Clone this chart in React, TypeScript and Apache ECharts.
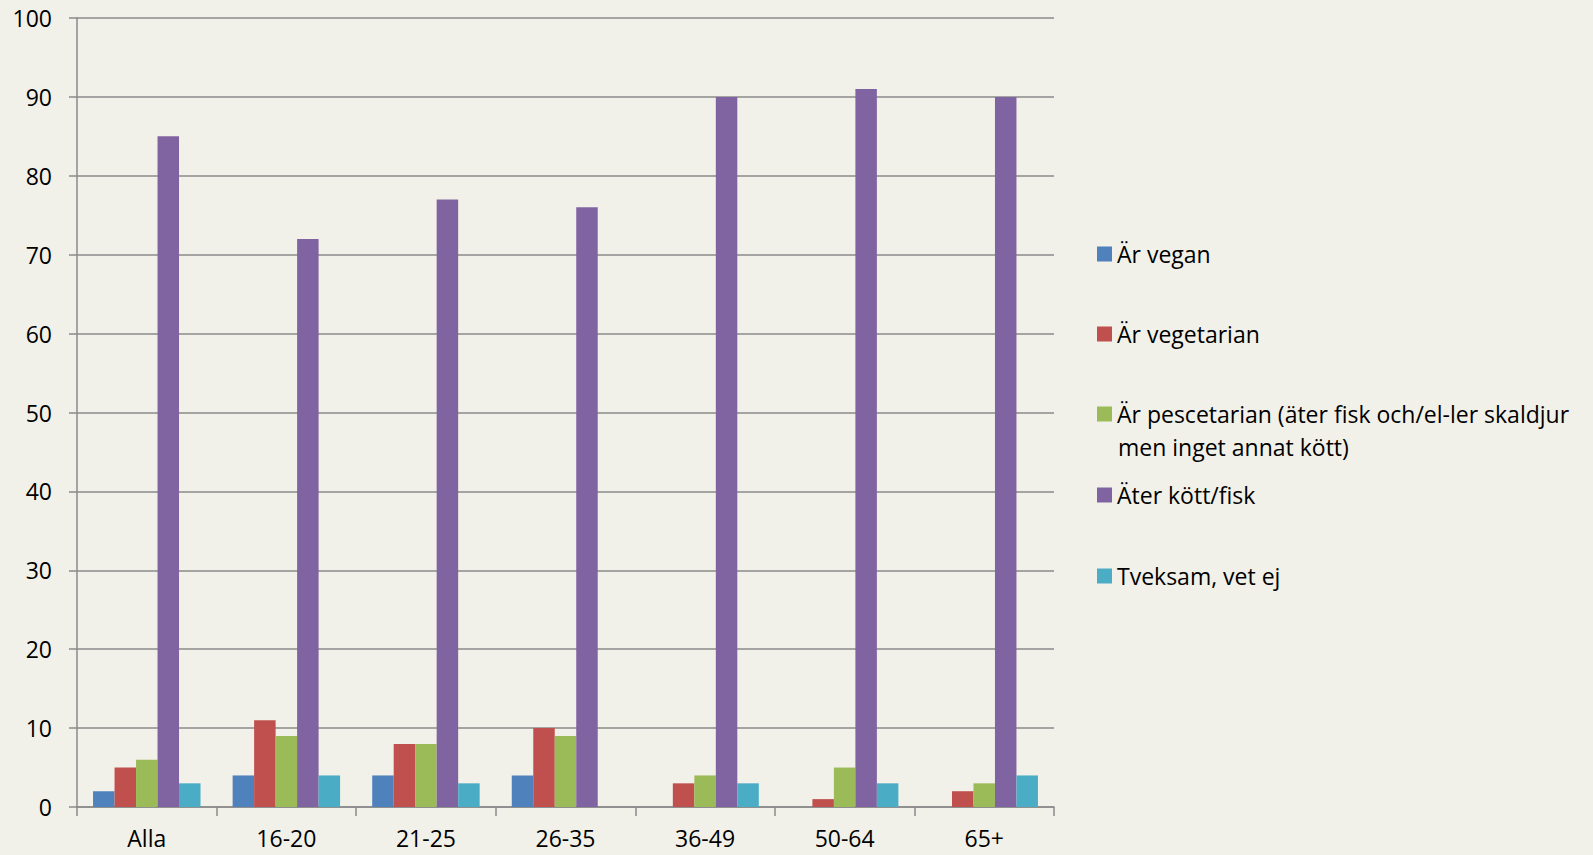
import React, { useEffect, useRef } from "react";
import * as echarts from "echarts";

const categories = ["Alla", "16-20", "21-25", "26-35", "36-49", "50-64", "65+"];
const seriesNames = [
  "Är vegan",
  "Är vegetarian",
  "Är pescetarian (äter fisk och/el-ler skaldjur",
  "Äter kött/fisk",
  "Tveksam, vet ej",
];
const pescetarianSecondLine = "men inget annat kött)";
const vegan = [2, 4, 4, 4, 0, 0, 0];
const vegetarian = [5, 11, 8, 10, 3, 1, 2];
const pescetarian = [6, 9, 8, 9, 4, 5, 3];
const kottFisk = [85, 72, 77, 76, 90, 91, 90];
const tveksam = [3, 4, 3, 0, 3, 3, 4];
const yTicks = { min: 0, max: 100, interval: 10 };

const colors = ["#4F81BD", "#C0504D", "#9BBB59", "#8064A2", "#4BACC6"];
const BG = "#F2F1E9";
const FONT = "Open Sans";
const FS = 23;

export default function App() {
  const ref = useRef<HTMLDivElement>(null);
  useEffect(() => {
    document.body.style.margin = "0";
    document.body.style.background = BG;
    if (!ref.current) return;
    const chart = echarts.init(ref.current, undefined, { renderer: "svg" });
    const data = [vegan, vegetarian, pescetarian, kottFisk, tveksam];
    const legendCenters = [254, 334, 414, 495, 576];
    const legends = seriesNames.map((name, i) => ({
      data: [name],
      left: 1097,
      top: legendCenters[i] - 14,
      padding: 0,
      itemWidth: 15,
      itemHeight: 15,
      itemGap: 6,
      icon: "rect",
      selectedMode: false,
      textStyle: {
        fontFamily: FONT,
        fontSize: FS,
        color: "#000",
        lineHeight: 28,
      },
    }));
    chart.setOption({
      animation: false,
      backgroundColor: BG,
      textStyle: { fontFamily: FONT },
      grid: { left: 77, top: 18, right: 539, bottom: 48, containLabel: false },
      legend: legends,
      graphic: [
        {
          type: "text",
          left: 1118,
          top: 447 - 14,
          style: {
            text: pescetarianSecondLine,
            fontFamily: FONT,
            fontSize: FS,
            fill: "#000",
            lineHeight: 28,
          },
        },
      ],
      xAxis: {
        type: "category",
        data: categories,
        axisLine: { lineStyle: { color: "#8A8A8A", width: 1.5 } },
        axisTick: { show: true, length: 9, lineStyle: { color: "#8A8A8A", width: 1.5 } },
        axisLabel: {
          color: "#000",
          fontSize: FS,
          fontFamily: FONT,
          margin: 19,
          lineHeight: 23,
        },
      },
      yAxis: {
        type: "value",
        min: yTicks.min,
        max: yTicks.max,
        interval: yTicks.interval,
        axisLine: { show: true, lineStyle: { color: "#8A8A8A", width: 1.5 } },
        axisTick: { show: true, length: 8, lineStyle: { color: "#8A8A8A", width: 1.5 } },
        axisLabel: { color: "#000", fontSize: FS, fontFamily: FONT, margin: 25 },
        splitLine: { show: true, lineStyle: { color: "#8A8A8A", width: 1.5 } },
      },
      series: seriesNames.map((name, i) => ({
        name,
        type: "bar",
        data: data[i],
        barGap: "0%",
        barCategoryGap: "23%",
        itemStyle: { color: colors[i] },
      })),
    });
    return () => chart.dispose();
  }, []);
  return <div ref={ref} style={{ width: 1593, height: 855, background: BG }} />;
}
